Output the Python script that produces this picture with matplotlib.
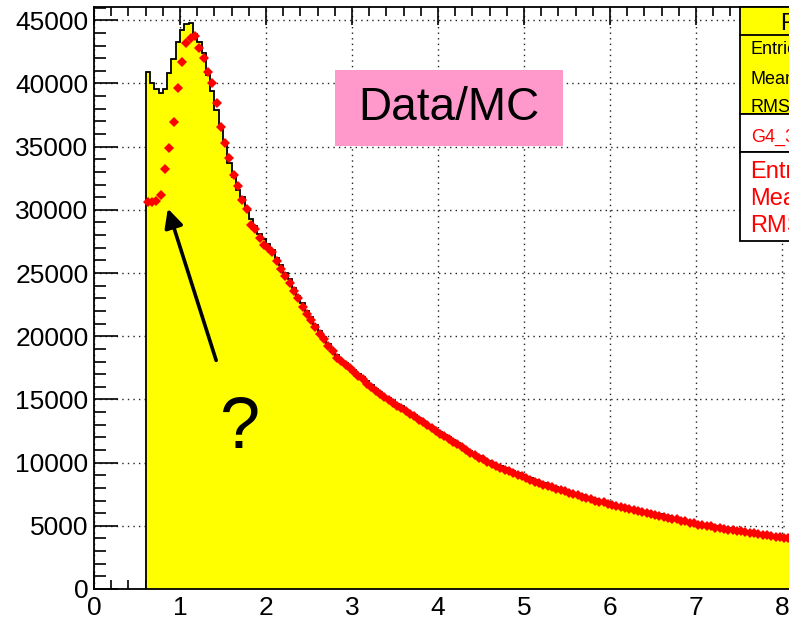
import numpy as np
import matplotlib
matplotlib.use("Agg")
import matplotlib.pyplot as plt
from matplotlib.patches import Rectangle, FancyArrowPatch
from matplotlib.ticker import MultipleLocator
from matplotlib.lines import Line2D

plt.rcParams['font.family'] = ['Liberation Sans', 'DejaVu Sans']

# ---------------- data ----------------
bin_lo = 0.60
bin_width = 0.05

# MC histogram (yellow, black outline), one value per 0.05 bin starting at 0.60
mc_counts = [
    40900, 40000, 39600, 39250, 39600, 40800, 41900, 43300, 44200, 44700,
    44800, 43950, 43300, 42400, 40700, 39400, 37900, 36600, 35250, 33700,
    32600, 31600, 31000, 30100, 29300, 28700, 28100, 27700, 27300, 26800,
    26200, 25600, 25000, 24500, 23800, 23200, 22600, 22000, 21500, 20900,
    20400, 19900, 19400, 18900, 18500, 18150, 17850, 17600, 17350, 17050,
    16750, 16450, 16150, 15850, 15550, 15300, 15100, 14900, 14650, 14450,
    14200, 13950, 13750, 13500, 13300, 13050, 12850, 12600, 12400, 12200,
    12000, 11750, 11550, 11350, 11100, 10900, 10700, 10500, 10300, 10150,
    10000, 9850, 9700, 9550, 9400, 9300, 9150, 9050, 8900, 8750,
    8600, 8450, 8350, 8250, 8150, 8050, 7950, 7850, 7700, 7600,
    7500, 7400, 7300, 7200, 7100, 7000, 6950, 6850, 6750, 6650,
    6600, 6500, 6400, 6350, 6250, 6200, 6100, 6050, 5950, 5900,
    5800, 5750, 5650, 5600, 5500, 5450, 5350, 5300, 5200, 5150,
    5100, 5050, 4950, 4900, 4850, 4800, 4750, 4700, 4650, 4600,
    4550, 4500, 4450, 4400, 4350, 4300, 4250, 4200, 4150, 4100,
    4050, 4000, 3950,
]

# Data points (red), same bins
data_counts = [
    30650, 30650, 30700, 31170, 33200, 34900, 36960, 39650, 41660, 43240,
    43610, 43740, 42770, 42030, 40920, 40050, 38470, 36520, 35300, 34070,
    32750, 31900, 30770, 30030, 28790, 28450, 27740, 27210, 27000, 26650,
    25950, 25350, 24800, 24250, 23550, 23000, 22350, 21750, 21250, 20750,
    20200, 19750, 19200, 18850, 18300, 18050, 17700, 17450, 17200, 16850,
    16600, 16250, 15950, 15700, 15400, 15200, 14950, 14750, 14500, 14300,
    14100, 13850, 13650, 13400, 13200, 12950, 12750, 12500, 12300, 12100,
    11900, 11650, 11450, 11250, 11000, 10800, 10600, 10400, 10250, 10050,
    9900, 9750, 9600, 9450, 9300, 9200, 9050, 8950, 8800, 8650,
    8500, 8400, 8250, 8150, 8050, 7950, 7850, 7750, 7600, 7500,
    7400, 7300, 7200, 7100, 7000, 6900, 6850, 6750, 6650, 6550,
    6500, 6400, 6300, 6250, 6150, 6100, 6000, 5950, 5850, 5800,
    5700, 5650, 5550, 5500, 5400, 5350, 5250, 5200, 5100, 5050,
    5000, 4950, 4850, 4800, 4750, 4700, 4650, 4600, 4550, 4500,
    4450, 4400, 4350, 4300, 4250, 4200, 4150, 4100, 4050, 4000,
    3950, 3900, 3850,
]

x_ticks = [0, 1, 2, 3, 4, 5, 6, 7, 8, 9, 10]
y_ticks = [0, 5000, 10000, 15000, 20000, 25000, 30000, 35000, 40000, 45000]

# ---------------- figure ----------------
W, H = 789, 622
fig = plt.figure(figsize=(W / 100, H / 100), dpi=100)
fig.patch.set_facecolor('white')

def fx(px):
    return px / W

def fy(py):
    return 1 - py / H

# axes: x=0 at px 94, 86 px per unit; y=0 at py 589, top at py 7
ax_left, ax_bottom, ax_top = 94, 589, 7
x_max = 10
ax = fig.add_axes([fx(ax_left), fy(ax_bottom), 86 * x_max / W, (ax_bottom - ax_top) / H])
ax.set_xlim(0, x_max)
ax.set_ylim(0, 46050)

n = len(mc_counts)
edges = bin_lo + bin_width * np.arange(n + 1)
centers = 0.5 * (edges[:-1] + edges[1:])

ax.stairs(mc_counts, edges, fill=True, color='#ffff00', zorder=1)
ax.stairs(mc_counts, edges, baseline=0, fill=False, color='black', lw=1.3, zorder=2)
ax.errorbar(centers, data_counts[:n], xerr=bin_width / 2, fmt='D', color='#ff0000',
            ms=5.3, mew=0, elinewidth=1.6, capsize=0, zorder=3)

ax.set_axisbelow(True)
ax.grid(True, which='major', linestyle=(0, (1, 3)), color='#222222', lw=1.0)

ax.set_xticks(x_ticks)
ax.set_xticklabels([str(t) for t in x_ticks])
ax.set_yticks(y_ticks)
ax.set_yticklabels([str(t) for t in y_ticks])
ax.xaxis.set_minor_locator(MultipleLocator(0.2))
ax.yaxis.set_minor_locator(MultipleLocator(1000))
ax.tick_params(axis='both', which='both', direction='in', top=True, right=True,
               width=1.2, colors='black', labelsize=19)
ax.tick_params(axis='x', which='major', length=13, pad=5)
ax.tick_params(axis='x', which='minor', length=6.5)
ax.tick_params(axis='y', which='major', length=17, pad=4)
ax.tick_params(axis='y', which='minor', length=8.5)
for s in ax.spines.values():
    s.set_linewidth(1.3)
    s.set_zorder(4)

# ---------------- Data/MC label ----------------
fig.patches.append(Rectangle((fx(335), fy(146)), fx(563) - fx(335), fy(70) - fy(146),
                             transform=fig.transFigure, facecolor='#ff99cc',
                             edgecolor='none', zorder=5))
fig.text(fx(449), fy(108), 'Data/MC', fontsize=33, ha='center', va='center', zorder=6)

# ---------------- arrow and question mark ----------------
fig.add_artist(FancyArrowPatch(
    (fx(217), fy(363)), (fx(167), fy(206)), transform=fig.transFigure,
    arrowstyle='-|>', mutation_scale=28, lw=2.6, color='black', zorder=6))
fig.text(fx(240), fy(430), '?', fontsize=52, ha='center', va='center', zorder=6)

# ---------------- stats boxes ----------------
bx0, bx1 = 740, 830
def box(y0, y1, fc):
    fig.patches.append(Rectangle((fx(bx0), fy(y1)), fx(bx1) - fx(bx0), fy(y0) - fy(y1),
                                 transform=fig.transFigure, facecolor=fc,
                                 edgecolor='black', lw=1.3, zorder=7))

box(7, 114, '#ffff00')
fig.add_artist(Line2D([fx(bx0), fx(bx1)], [fy(35), fy(35)], transform=fig.transFigure,
                      color='black', lw=1.3, zorder=8))
box(114, 152, 'white')
box(152, 241, 'white')

fig.text(fx(780), fy(24), 'F', fontsize=17, ha='left', va='center', zorder=9)
for label, py in [('Entries', 50), ('Mean', 80), ('RMS', 107)]:
    fig.text(fx(751), fy(py), label, fontsize=13, ha='left', va='center', zorder=9)
fig.text(fx(751), fy(137), 'G4_3', fontsize=13, color='#ff0000', ha='left', va='center', zorder=9)
for label, py in [('Entries', 172), ('Mean', 199), ('RMS', 226)]:
    fig.text(fx(750), fy(py), label, fontsize=17, color='#ff0000', ha='left', va='center', zorder=9)

fig.savefig('out.png', dpi=100)
